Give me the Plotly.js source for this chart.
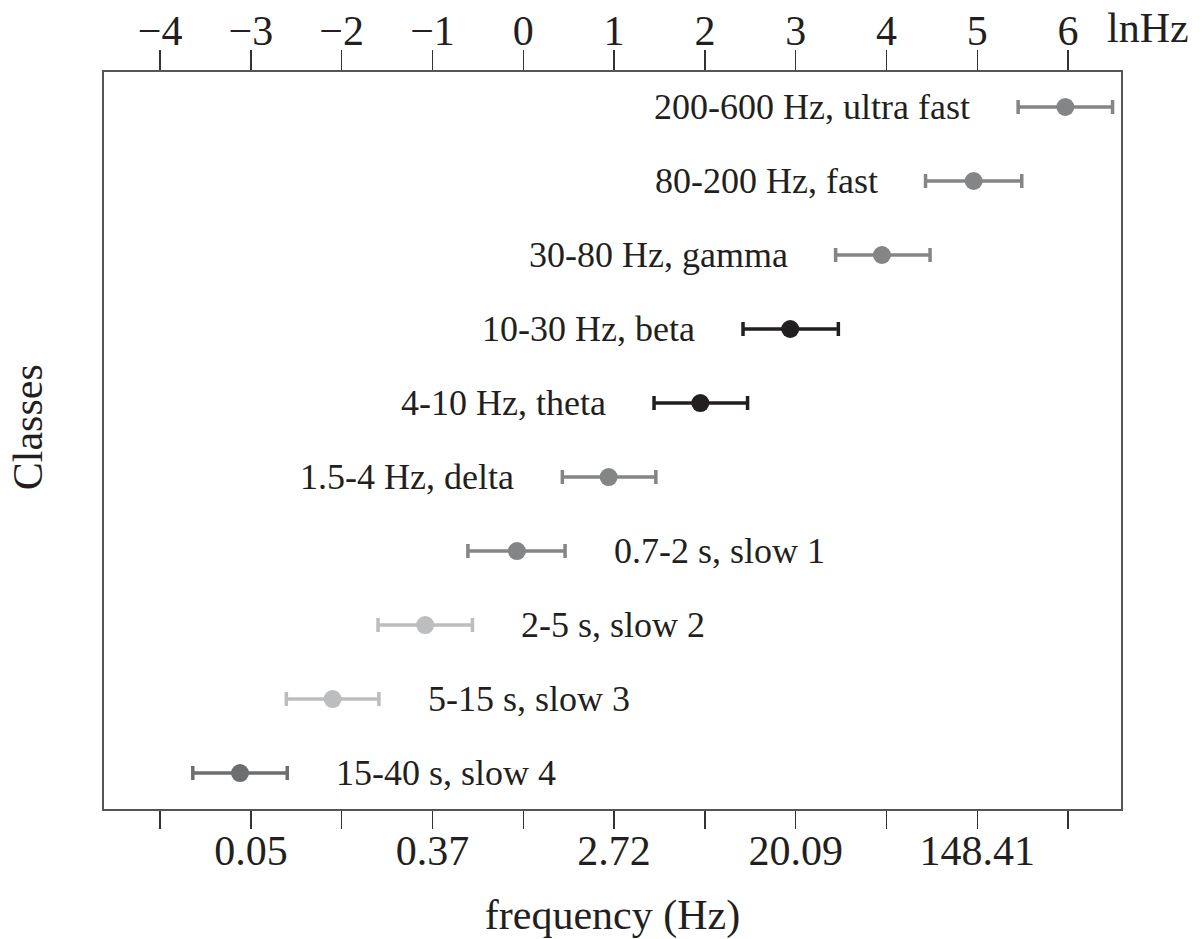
<!DOCTYPE html>
<html>
<head>
<meta charset="utf-8">
<script src="https://cdn.plot.ly/plotly-3.0.1.min.js"></script>
<style>html,body{margin:0;padding:0;background:#fff;}#chart{width:1203px;height:939px;}</style>
</head>
<body>
<div id="chart"></div>
<script>
// Classes (top to bottom in the picture)
var classLabels = ["200-600 Hz, ultra fast","80-200 Hz, fast","30-80 Hz, gamma","10-30 Hz, beta","4-10 Hz, theta","1.5-4 Hz, delta","0.7-2 s, slow 1","2-5 s, slow 2","5-15 s, slow 3","15-40 s, slow 4"];
// centre of each class in ln(Hz)
var centers = [5.97, 4.96, 3.95, 2.94, 1.95, 0.94, -0.07, -1.08, -2.10, -3.12];
var errPlus  = [0.52, 0.53, 0.53, 0.53, 0.52, 0.52, 0.53, 0.52, 0.51, 0.52];
var errMinus = [0.52, 0.53, 0.51, 0.52, 0.51, 0.51, 0.54, 0.52, 0.51, 0.52];
var colors = ["#848587","#848587","#848587","#231f20","#231f20","#848587","#848587","#bcbdbf","#bcbdbf","#6d6e70"];
var labelSide = ["left","left","left","left","left","left","right","right","right","right"];
// axes
var topTicks = [-4,-3,-2,-1,0,1,2,3,4,5,6];
var topTickText = ["\u22124","\u22123","\u22122","\u22121","0","1","2","3","4","5","6"];
var bottomTicks = [-4,-3,-2,-1,0,1,2,3,4,5,6];
var bottomTickText = ["","0.05","","0.37","","2.72","","20.09","","148.41",""];
var xRange = [-4.618, 6.583];

var FONT = "Liberation Serif, Times New Roman, serif";
var TXT = "#231f20";
var n = classLabels.length;
var traces = [];
var annotations = [];
for (var i = 0; i < n; i++) {
  var yv = n - 1 - i;
  traces.push({
    type: "scatter", mode: "markers",
    x: [centers[i]], y: [yv],
    marker: {color: colors[i], size: 18, line: {width: 0}},
    error_x: {type: "data", symmetric: false, array: [errPlus[i]], arrayminus: [errMinus[i]],
              color: colors[i], thickness: 3.5, width: 7},
    showlegend: false, hoverinfo: "skip", xaxis: "x", yaxis: "y"
  });
  var left = labelSide[i] === "left";
  annotations.push({
    x: left ? centers[i] - errMinus[i] : centers[i] + errPlus[i],
    y: yv, xref: "x", yref: "y",
    text: classLabels[i], showarrow: false,
    xanchor: left ? "right" : "left", yanchor: "middle",
    xshift: left ? -46 : 47,
    font: {family: FONT, size: 36, color: TXT}
  });
}
// dummy trace to activate top axis
traces.push({type: "scatter", mode: "markers", x: [0], y: [0], xaxis: "x2", yaxis: "y",
  marker: {opacity: 0}, showlegend: false, hoverinfo: "skip"});

annotations.push({
  xref: "paper", yref: "paper", x: 1.0, y: 1.0, yshift: 44, xshift: -16,
  xanchor: "left", yanchor: "middle", text: "lnHz", showarrow: false,
  font: {family: FONT, size: 42, color: TXT}
});
annotations.push({
  xref: "paper", yref: "paper", x: -0.0747, y: 0.518,
  xanchor: "center", yanchor: "middle", textangle: -90, text: "Classes", showarrow: false,
  font: {family: FONT, size: 42, color: TXT}
});

var axLine = "#555555";
var layout = {
  width: 1203, height: 939,
  margin: {l: 104, r: 82, t: 72, b: 130},
  paper_bgcolor: "#ffffff", plot_bgcolor: "#ffffff",
  font: {family: FONT, color: TXT},
  showlegend: false,
  xaxis: {
    range: xRange, tickmode: "array", tickvals: bottomTicks, ticktext: bottomTickText,
    ticks: "outside", ticklen: 18, tickwidth: 1.5, tickcolor: "#333",
    ticklabelstandoff: -14,
    showline: true, linecolor: axLine, linewidth: 2, showgrid: false, zeroline: false,
    tickfont: {family: FONT, size: 42, color: TXT},
    title: {text: "frequency (Hz)", font: {family: FONT, size: 42, color: TXT}, standoff: 26}
  },
  xaxis2: {
    range: xRange, overlaying: "x", side: "top", tickmode: "array", tickvals: topTicks, ticktext: topTickText,
    ticks: "outside", ticklen: 20, tickwidth: 1.5, tickcolor: "#333",
    ticklabelstandoff: -12,
    showline: true, linecolor: axLine, linewidth: 2, showgrid: false, zeroline: false,
    tickfont: {family: FONT, size: 42, color: TXT}
  },
  yaxis: {
    range: [-0.486, 9.473], showticklabels: false, ticks: "", showgrid: false, zeroline: false,
    showline: true, mirror: true, linecolor: axLine, linewidth: 2
  },
  annotations: annotations
};
Plotly.newPlot("chart", traces, layout, {displayModeBar: false, staticPlot: true});
</script>
</body>
</html>
